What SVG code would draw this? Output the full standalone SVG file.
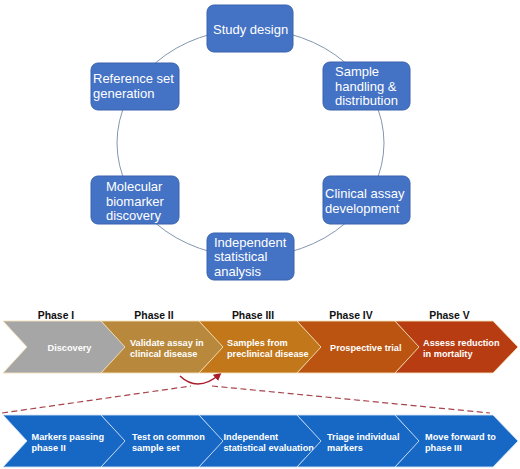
<svg xmlns="http://www.w3.org/2000/svg" width="520" height="469" viewBox="0 0 520 469">
<style>
.box{fill:#4472C4;stroke:#3a63ad;stroke-width:1}
.bt{font-family:"Liberation Sans",Arial,sans-serif;font-size:13px;fill:#ffffff}
.ph{font-family:"Liberation Sans",Arial,sans-serif;font-size:10.4px;font-weight:bold;fill:#111111;text-anchor:middle}
.ct{font-family:"Liberation Sans",Arial,sans-serif;font-size:9.2px;font-weight:bold;fill:#ffffff}
.chev{stroke-width:0.9}
.warm{stroke:#f3dfb8}
.cool{stroke:#cfe2f7}
.dash{fill:none;stroke:#a8444c;stroke-width:1.2;stroke-dasharray:6 3.5}
</style>
<defs>
<marker id="ah" markerWidth="8" markerHeight="8" refX="6" refY="4" orient="auto" markerUnits="userSpaceOnUse">
<path d="M0,0 L8,4 L0,8 Z" fill="#a81d2b"/>
</marker>
</defs>
<rect width="520" height="469" fill="#ffffff"/>
<g id="connectors">
<ellipse cx="250.5" cy="143" rx="133.5" ry="114" fill="none" stroke="#8496b0" stroke-width="1"/>
<path class="dash" d="M2,413 L191,386"/>
<path class="dash" d="M212,386 L490,413"/>
<path d="M180,376 Q198,393 220,374" fill="none" stroke="#a81d2b" stroke-width="1.5" marker-end="url(#ah)"/>
</g>
<g id="study-design"><rect class="box" x="207" y="5" width="86" height="47" rx="7"/><text class="bt" x="213" y="34">Study design</text></g>
<g id="reference-set"><rect class="box" x="91" y="63" width="88" height="47" rx="7"/><text class="bt" x="93" y="83">Reference set</text><text class="bt" x="93" y="97.5">generation</text></g>
<g id="sample-handling"><rect class="box" x="323" y="62" width="87" height="48" rx="7"/><text class="bt" x="335" y="76">Sample</text><text class="bt" x="335" y="90.5">handling &amp;</text><text class="bt" x="335" y="105">distribution</text></g>
<g id="molecular"><rect class="box" x="91" y="176" width="88" height="48" rx="7"/><text class="bt" x="106" y="191">Molecular</text><text class="bt" x="106" y="205.5">biomarker</text><text class="bt" x="106" y="220">discovery</text></g>
<g id="clinical-assay"><rect class="box" x="323" y="176" width="87" height="48" rx="7"/><text class="bt" x="325" y="198">Clinical assay</text><text class="bt" x="325" y="212.5">development</text></g>
<g id="independent-analysis"><rect class="box" x="207" y="233" width="87" height="47" rx="7"/><text class="bt" x="214" y="246.5">Independent</text><text class="bt" x="214" y="261">statistical</text><text class="bt" x="214" y="275.5">analysis</text></g>
<g id="phase-labels">
<text class="ph" x="56" y="319">Phase I</text>
<text class="ph" x="154" y="319">Phase II</text>
<text class="ph" x="253" y="319">Phase III</text>
<text class="ph" x="351" y="319">Phase IV</text>
<text class="ph" x="449.5" y="319">Phase V</text>
</g>
<g id="phase1"><path class="chev warm" fill="#a6a6a6" stroke="#f4f4f4" d="M3,321 L101,321 L126,347 L101,373 L3,373 L27,347 Z"/><text class="ct" x="47.5" y="351">Discovery</text></g>
<g id="phase2"><path class="chev warm" fill="#b8893c" d="M101,321 L199,321 L224,347 L199,373 L101,373 L125,347 Z"/><text class="ct" x="130" y="346">Validate assay in</text><text class="ct" x="130" y="357">clinical disease</text></g>
<g id="phase3"><path class="chev warm" fill="#c2771a" d="M199,321 L297,321 L322,347 L297,373 L199,373 L223,347 Z"/><text class="ct" x="227" y="346">Samples from</text><text class="ct" x="227" y="357">preclinical disease</text></g>
<g id="phase4"><path class="chev warm" fill="#ba5410" d="M297,321 L395,321 L420,347 L395,373 L297,373 L321,347 Z"/><text class="ct" x="330" y="351">Prospective trial</text></g>
<g id="phase5"><path class="chev warm" fill="#b83c12" d="M395,321 L493,321 L518,347 L493,373 L395,373 L419,347 Z"/><text class="ct" x="423" y="346">Assess reduction</text><text class="ct" x="423" y="357">in mortality</text></g>
<g id="step1"><path class="chev cool" fill="#1767c4" d="M3,415 L101,415 L126,441 L101,467 L3,467 L27,441 Z"/><text class="ct" x="31.5" y="440">Markers passing</text><text class="ct" x="31.5" y="451">phase II</text></g>
<g id="step2"><path class="chev cool" fill="#1767c4" d="M101,415 L199,415 L224,441 L199,467 L101,467 L125,441 Z"/><text class="ct" x="132" y="440">Test on common</text><text class="ct" x="132" y="451">sample set</text></g>
<g id="step3"><path class="chev cool" fill="#1767c4" d="M199,415 L297,415 L322,441 L297,467 L199,467 L223,441 Z"/><text class="ct" x="223.5" y="440">Independent</text><text class="ct" x="223.5" y="451">statistical evaluation</text></g>
<g id="step4"><path class="chev cool" fill="#1767c4" d="M297,415 L395,415 L420,441 L395,467 L297,467 L321,441 Z"/><text class="ct" x="327" y="440">Triage individual</text><text class="ct" x="327" y="451">markers</text></g>
<g id="step5"><path class="chev cool" fill="#1767c4" d="M395,415 L493,415 L518,441 L493,467 L395,467 L419,441 Z"/><text class="ct" x="425" y="440">Move forward to</text><text class="ct" x="425" y="451">phase III</text></g>
</svg>
